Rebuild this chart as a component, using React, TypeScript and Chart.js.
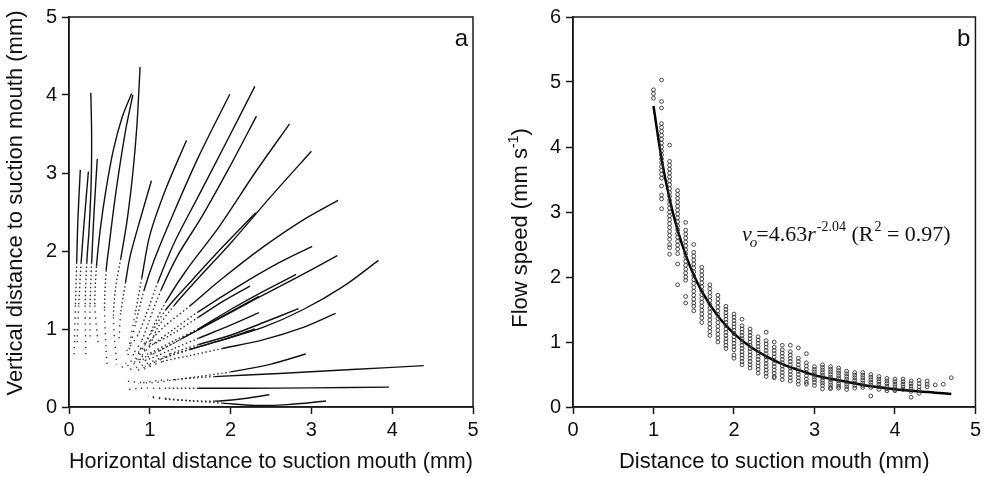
import React, { useEffect, useRef } from 'react';
import { Chart, registerables } from 'chart.js';

Chart.register(...registerables);

const SANS = "'Liberation Sans', Arial, Helvetica, sans-serif";
const SERIF = "'Liberation Serif', 'Times New Roman', Times, serif";
const INK = '#1a1a1a';

// ---------------- Panel a: particle tracks (x, y in mm), outer start -> suction mouth ----------------
const track01 = [[0.14, 3.04], [0.11, 2.4], [0.095, 1.85], [0.08, 1.3], [0.06, 0.62]];
const track02 = [[0.24, 3.02], [0.19, 2.4], [0.15, 1.85], [0.12, 1.3], [0.1, 0.82]];
const track03 = [[0.27, 4.03], [0.28, 3.5], [0.275, 2.9], [0.25, 2.3], [0.22, 1.85], [0.2, 1.3], [0.21, 0.62]];
const track04 = [[0.35, 3.18], [0.31, 2.5], [0.28, 1.85], [0.26, 1.3], [0.26, 0.85]];
const track05 = [[0.775, 4.02], [0.66, 3.72], [0.55, 3.3], [0.46, 2.8], [0.39, 2.3], [0.34, 1.8], [0.32, 1.3], [0.36, 0.82]];
const track06 = [[0.79, 4.0], [0.71, 3.6], [0.63, 3.1], [0.56, 2.6], [0.5, 2.1], [0.46, 1.75], [0.44, 1.25], [0.47, 0.52]];
const track07 = [[0.88, 4.36], [0.84, 3.6], [0.79, 3.0], [0.72, 2.4], [0.64, 1.9], [0.58, 1.55], [0.55, 1.15], [0.59, 0.54]];
const track08 = [[1.02, 2.9], [0.88, 2.4], [0.76, 1.95], [0.7, 1.6], [0.64, 1.2], [0.62, 0.88]];
const track09 = [[1.455, 3.42], [1.2, 2.8], [1.0, 2.2], [0.9, 1.65], [0.82, 1.2], [0.74, 0.75]];
const track10 = [[1.99, 4.01], [1.6, 3.2], [1.3, 2.5], [1.06, 1.9], [0.93, 1.5], [0.82, 1.05], [0.72, 0.62]];
const track11 = [[2.3, 4.11], [1.95, 3.4], [1.6, 2.7], [1.3, 2.1], [1.1, 1.6], [0.96, 1.2], [0.85, 0.92], [0.7, 0.7]];
const track12 = [[2.32, 3.73], [2.0, 3.1], [1.65, 2.45], [1.35, 1.95], [1.14, 1.5], [0.99, 1.1], [0.9, 0.85], [0.78, 0.66]];
const track13 = [[2.73, 3.63], [2.3, 3.0], [1.85, 2.3], [1.45, 1.75], [1.2, 1.35], [1.05, 1.05], [0.95, 0.82], [0.82, 0.62]];
const track14 = [[3.0, 3.28], [2.5, 2.7], [2.0, 2.1], [1.6, 1.65], [1.3, 1.3], [1.1, 1.02], [1.0, 0.8], [0.86, 0.6]];
const track15 = [[2.31, 2.49], [1.9, 2.05], [1.5, 1.6], [1.2, 1.25], [1.02, 0.95], [0.88, 0.74]];
const track16 = [[3.33, 2.65], [2.9, 2.4], [2.4, 2.05], [1.9, 1.65], [1.5, 1.3], [1.2, 1.05], [1.0, 0.85], [0.84, 0.7]];
const track17 = [[3.01, 2.06], [2.6, 1.85], [2.1, 1.55], [1.6, 1.22], [1.3, 1.0], [1.06, 0.82], [0.86, 0.66]];
const track18 = [[3.32, 1.94], [2.8, 1.65], [2.3, 1.38], [1.8, 1.1], [1.4, 0.88], [1.12, 0.72], [0.9, 0.6]];
const track19 = [[3.83, 1.88], [3.4, 1.55], [2.9, 1.25], [2.4, 1.02], [1.9, 0.86], [1.5, 0.74], [1.15, 0.62], [0.94, 0.52]];
const track20 = [[2.81, 1.7], [2.4, 1.48], [2.0, 1.25], [1.6, 1.0], [1.3, 0.82], [1.02, 0.68], [0.78, 0.56]];
const track21 = [[2.24, 1.55], [1.9, 1.35], [1.6, 1.15], [1.3, 0.95], [1.0, 0.78], [0.74, 0.64]];
const track22 = [[2.35, 1.42], [2.0, 1.22], [1.6, 1.0], [1.3, 0.85], [0.98, 0.68], [0.7, 0.56]];
const track23 = [[2.35, 1.21], [2.0, 1.05], [1.6, 0.88], [1.3, 0.75], [0.95, 0.6], [0.62, 0.5]];
const track24 = [[2.84, 1.26], [2.4, 1.08], [2.0, 0.92], [1.6, 0.8], [1.25, 0.68], [0.95, 0.55], [0.72, 0.47]];
const track25 = [[3.3, 1.2], [2.9, 1.02], [2.4, 0.86], [1.9, 0.75], [1.5, 0.66], [1.15, 0.58], [0.92, 0.48]];
const track26 = [[2.3, 1.0], [1.9, 0.86], [1.5, 0.74], [1.2, 0.64], [0.92, 0.5], [0.8, 0.45]];
const track27 = [[2.93, 0.68], [2.5, 0.55], [2.0, 0.45], [1.6, 0.39], [1.3, 0.35], [1.1, 0.34], [0.86, 0.3]];
const track28 = [[4.39, 0.53], [3.5, 0.48], [2.6, 0.43], [1.8, 0.39], [1.4, 0.36], [1.0, 0.31], [0.72, 0.33]];
const track29 = [[3.96, 0.255], [3.0, 0.245], [2.2, 0.24], [1.6, 0.24], [1.2, 0.24], [0.88, 0.24], [0.71, 0.22]];
const track30 = [[2.48, 0.157], [2.1, 0.1], [1.8, 0.075], [1.5, 0.08], [1.2, 0.11], [0.98, 0.14]];
const track31 = [[3.18, 0.077], [2.7, 0.03], [2.3, 0.02], [1.9, 0.05], [1.5, 0.08], [1.2, 0.1], [0.98, 0.13]];

const tracks = [
  track01, track02, track03, track04, track05, track06, track07, track08, track09, track10,
  track11, track12, track13, track14, track15, track16, track17, track18, track19, track20,
  track21, track22, track23, track24, track25, track26, track27, track28, track29, track30, track31,
];

// ---------------- Panel b: flow speed (mm/s) vs distance (mm) ----------------
const distanceCols = [
  1.0, 1.1, 1.2, 1.3, 1.4, 1.5, 1.6, 1.7, 1.8, 1.9, 2.0, 2.1, 2.2, 2.3, 2.4, 2.5, 2.6, 2.7, 2.8, 2.9,
  3.0, 3.1, 3.2, 3.3, 3.4, 3.5, 3.6, 3.7, 3.8, 3.9, 4.0, 4.1, 4.2, 4.3, 4.4, 4.5, 4.6, 4.7,
];
const speedCols = [
  [4.88, 4.82, 4.75],
  [5.03, 4.7, 4.6, 4.36, 4.3, 4.24, 4.18, 4.12, 4.06, 4.0, 3.94, 3.88, 3.82, 3.76, 3.7, 3.64, 3.58, 3.52, 3.4, 3.26, 3.2, 3.05],
  [4.03, 3.78, 3.72, 3.66, 3.6, 3.54, 3.48, 3.42, 3.36, 3.3, 3.24, 3.18, 3.12, 3.06, 3.0, 2.94, 2.88, 2.82, 2.76, 2.7, 2.64, 2.58, 2.5, 2.45, 2.35],
  [3.33, 3.27, 3.21, 3.15, 3.09, 3.03, 2.97, 2.91, 2.85, 2.79, 2.73, 2.67, 2.61, 2.55, 2.49, 2.43, 2.36, 2.2, 1.88],
  [2.84, 2.72, 2.66, 2.6, 2.54, 2.48, 2.42, 2.36, 2.3, 2.24, 2.18, 2.12, 2.06, 2.0, 1.95, 1.7, 1.6],
  [2.5, 2.38, 2.32, 2.26, 2.2, 2.14, 2.08, 2.02, 1.96, 1.9, 1.84, 1.78, 1.72, 1.66, 1.6, 1.55, 1.48],
  [2.15, 2.09, 2.03, 1.97, 1.91, 1.85, 1.79, 1.73, 1.67, 1.61, 1.55, 1.49, 1.43, 1.37, 1.3],
  [1.88, 1.82, 1.76, 1.7, 1.64, 1.58, 1.52, 1.46, 1.4, 1.34, 1.28, 1.22, 1.16, 1.1],
  [1.72, 1.66, 1.6, 1.54, 1.48, 1.42, 1.36, 1.3, 1.24, 1.18, 1.12, 1.06, 1.0],
  [1.55, 1.5, 1.45, 1.4, 1.35, 1.3, 1.25, 1.2, 1.15, 1.1, 1.05, 1.0, 0.95, 0.9],
  [1.43, 1.38, 1.33, 1.28, 1.23, 1.18, 1.13, 1.08, 1.03, 0.98, 0.93, 0.88, 0.8, 0.75],
  [1.35, 1.25, 1.2, 1.15, 1.1, 1.05, 1.0, 0.95, 0.9, 0.85, 0.8, 0.75, 0.7, 0.65],
  [1.2, 1.15, 1.1, 1.05, 1.0, 0.95, 0.9, 0.85, 0.8, 0.75, 0.7, 0.65, 0.6],
  [1.08, 1.03, 0.98, 0.93, 0.88, 0.83, 0.78, 0.73, 0.68, 0.63, 0.58, 0.52],
  [1.15, 1.02, 0.97, 0.92, 0.87, 0.82, 0.77, 0.72, 0.67, 0.62, 0.57, 0.52, 0.47],
  [1.0, 0.92, 0.87, 0.82, 0.77, 0.72, 0.67, 0.62, 0.57, 0.52, 0.47, 0.45],
  [0.95, 0.88, 0.83, 0.78, 0.73, 0.68, 0.63, 0.58, 0.53, 0.48, 0.42],
  [0.95, 0.85, 0.8, 0.75, 0.7, 0.65, 0.6, 0.55, 0.5, 0.45, 0.4],
  [0.91, 0.75, 0.7, 0.65, 0.6, 0.55, 0.5, 0.45, 0.4, 0.35],
  [0.82, 0.68, 0.63, 0.58, 0.53, 0.48, 0.43, 0.38, 0.35],
  [0.62, 0.58, 0.54, 0.5, 0.46, 0.42, 0.38, 0.33],
  [0.65, 0.61, 0.57, 0.53, 0.49, 0.45, 0.41, 0.37, 0.33, 0.28],
  [0.62, 0.58, 0.54, 0.5, 0.46, 0.42, 0.38, 0.34, 0.3, 0.28],
  [0.6, 0.56, 0.52, 0.48, 0.44, 0.4, 0.36, 0.32, 0.29],
  [0.55, 0.51, 0.47, 0.43, 0.39, 0.35, 0.31, 0.27],
  [0.53, 0.49, 0.45, 0.41, 0.37, 0.33, 0.29],
  [0.53, 0.49, 0.45, 0.41, 0.37, 0.33, 0.3],
  [0.5, 0.46, 0.42, 0.38, 0.34, 0.3, 0.17],
  [0.47, 0.43, 0.39, 0.35, 0.31, 0.27],
  [0.44, 0.4, 0.36, 0.32, 0.28, 0.25],
  [0.43, 0.39, 0.35, 0.31, 0.27, 0.25],
  [0.43, 0.39, 0.35, 0.31, 0.27],
  [0.4, 0.36, 0.32, 0.28, 0.24, 0.15],
  [0.41, 0.36, 0.31, 0.26, 0.21],
  [0.4, 0.35, 0.31],
  [0.34],
  [0.35],
  [0.45],
];
const fitDistance = [1.0, 1.1, 1.2, 1.3, 1.4, 1.5, 1.6, 1.8, 2.0, 2.2, 2.4, 2.6, 2.8, 3.0, 3.3, 3.6, 3.9, 4.2, 4.5, 4.7];
const fitSpeed = [4.63, 3.82, 3.2, 2.72, 2.34, 2.03, 1.78, 1.4, 1.13, 0.93, 0.78, 0.66, 0.57, 0.49, 0.41, 0.34, 0.29, 0.25, 0.22, 0.2];

// ---------------- shared helpers ----------------
function segRadius(ctx: any) {
  const x = (ctx.p0.parsed.x + ctx.p1.parsed.x) / 2;
  const y = (ctx.p0.parsed.y + ctx.p1.parsed.y) / 2;
  return Math.hypot(x, y);
}
function trackDash(ctx: any) {
  const r = segRadius(ctx);
  if (r > 1.85) return undefined;
  if (r > 1.3) return [1.5, 2.5];
  return [1.3, 4.6];
}
function trackColor(ctx: any) {
  return segRadius(ctx) > 1.85 ? '#111' : '#333';
}

function axis(min: number, max: number, fitSize: number, horizontal: boolean, title?: string) {
  return {
    type: 'linear',
    min,
    max,
    afterFit: (s: any) => {
      if (horizontal) s.height = fitSize;
      else s.width = fitSize;
    },
    border: { display: true, color: INK, width: 1.5 },
    grid: { drawOnChartArea: false, drawTicks: true, tickLength: 7, tickColor: INK, tickWidth: 1.5, color: INK },
    ticks: {
      stepSize: 1,
      padding: horizontal ? 4 : 5,
      color: '#111',
      font: { family: SANS, size: 20 },
      maxRotation: 0,
      callback: (v: any) => String(v),
    },
    title: title
      ? { display: true, text: title, color: '#111', font: { family: SANS, size: 22 }, padding: { top: 0, bottom: 2 } }
      : { display: false },
  };
}

function framePlugin(letter: string, drawYTitle: (ctx: CanvasRenderingContext2D) => void) {
  return {
    id: 'frame' + letter,
    afterDraw(chart: any) {
      const { ctx, chartArea: a } = chart;
      ctx.save();
      ctx.strokeStyle = INK;
      ctx.lineWidth = 1.5;
      ctx.strokeRect(a.left, a.top, a.right - a.left, a.bottom - a.top);
      ctx.fillStyle = '#111';
      ctx.font = `24px ${SANS}`;
      ctx.textAlign = 'right';
      ctx.textBaseline = 'alphabetic';
      ctx.fillText(letter, a.right - 5, a.top + 29);
      drawYTitle(ctx);
      ctx.restore();
    },
  };
}

const equationPlugin = {
  id: 'equation',
  afterDraw(chart: any) {
    const { ctx, scales } = chart;
    let x = scales.x.getPixelForValue(2.1);
    const y = scales.y.getPixelForValue(2.56);
    ctx.save();
    ctx.fillStyle = '#111';
    ctx.textAlign = 'left';
    ctx.textBaseline = 'alphabetic';
    const big = `22px ${SERIF}`;
    const bigI = `italic 22px ${SERIF}`;
    const small = `14px ${SERIF}`;
    const smallI = `italic 15px ${SERIF}`;
    ctx.font = bigI;
    ctx.fillText('v', x, y);
    x += ctx.measureText('v').width;
    ctx.font = smallI;
    ctx.fillText('o', x - 2, y + 6);
    x += ctx.measureText('o').width - 3;
    ctx.font = big;
    ctx.fillText('=4.63', x, y);
    x += ctx.measureText('=4.63').width;
    ctx.font = bigI;
    ctx.fillText('r', x, y);
    x += ctx.measureText('r').width + 1;
    ctx.font = small;
    ctx.fillText('-2.04', x, y - 10);
    x += ctx.measureText('-2.04').width;
    ctx.font = big;
    ctx.fillText(' (R', x, y);
    x += ctx.measureText(' (R').width + 1;
    ctx.font = small;
    ctx.fillText('2', x, y - 10);
    x += ctx.measureText('2').width;
    ctx.font = big;
    ctx.fillText(' = 0.97)', x, y);
    ctx.restore();
  },
};

function drawYTitleA(ctx: CanvasRenderingContext2D) {
  ctx.save();
  ctx.translate(22, 203);
  ctx.rotate(-Math.PI / 2);
  ctx.font = `22px ${SANS}`;
  ctx.textAlign = 'center';
  ctx.textBaseline = 'alphabetic';
  ctx.fillStyle = '#111';
  ctx.fillText('Vertical distance to suction mouth (mm)', 0, 0);
  ctx.restore();
}

function drawYTitleB(ctx: CanvasRenderingContext2D) {
  ctx.save();
  ctx.translate(37, 228);
  ctx.rotate(-Math.PI / 2);
  ctx.textAlign = 'left';
  ctx.textBaseline = 'alphabetic';
  ctx.fillStyle = '#111';
  const main = 'Flow speed (mm s';
  const sup = '-1';
  const end = ')';
  ctx.font = `22px ${SANS}`;
  const w1 = ctx.measureText(main).width;
  const w3 = ctx.measureText(end).width;
  ctx.font = `14px ${SANS}`;
  const w2 = ctx.measureText(sup).width;
  let x = -(w1 + w2 + w3) / 2;
  ctx.font = `22px ${SANS}`;
  ctx.fillText(main, x, 0);
  x += w1;
  ctx.font = `14px ${SANS}`;
  ctx.fillText(sup, x, -9);
  x += w2;
  ctx.font = `22px ${SANS}`;
  ctx.fillText(end, x, 0);
  ctx.restore();
}

function PanelA() {
  const ref = useRef<HTMLCanvasElement | null>(null);
  useEffect(() => {
    const chart = new Chart(ref.current as HTMLCanvasElement, {
      type: 'scatter',
      data: {
        datasets: tracks.map((t) => ({
          data: t.map(([x, y]) => ({ x, y })),
          showLine: true,
          pointRadius: 0,
          borderColor: '#111',
          borderWidth: 1.4,
          tension: 0.3,
          borderCapStyle: 'butt',
          segment: { borderDash: trackDash, borderColor: trackColor },
        })),
      },
      options: {
        animation: false,
        responsive: false,
        devicePixelRatio: 1,
        layout: { padding: { left: 0, top: 16, right: 17, bottom: 0 } },
        plugins: { legend: { display: false }, tooltip: { enabled: false } },
        scales: {
          x: axis(0, 5, 70, true, 'Horizontal distance to suction mouth (mm)'),
          y: axis(0, 5, 69, false),
        },
      } as any,
      plugins: [framePlugin('a', drawYTitleA)],
    } as any);
    return () => chart.destroy();
  }, []);
  return <canvas ref={ref} width={490} height={477} style={{ position: 'absolute', left: 0, top: 0, width: 490, height: 477 }} />;
}

function PanelB() {
  const ref = useRef<HTMLCanvasElement | null>(null);
  useEffect(() => {
    const points: { x: number; y: number }[] = [];
    distanceCols.forEach((d, i) => speedCols[i].forEach((v) => points.push({ x: d, y: v })));
    const chart = new Chart(ref.current as HTMLCanvasElement, {
      type: 'scatter',
      data: {
        datasets: [
          {
            data: points,
            pointStyle: 'circle',
            pointRadius: 1.9,
            pointBorderWidth: 0.9,
            pointBorderColor: '#333',
            pointBackgroundColor: 'rgba(255,255,255,0)',
          },
          {
            type: 'line',
            data: fitDistance.map((x, i) => ({ x, y: fitSpeed[i] })),
            borderColor: '#000',
            borderWidth: 2.5,
            pointRadius: 0,
            cubicInterpolationMode: 'monotone',
            fill: false,
          },
        ],
      },
      options: {
        animation: false,
        responsive: false,
        devicePixelRatio: 1,
        layout: { padding: { left: 0, top: 16, right: 8, bottom: 0 } },
        plugins: { legend: { display: false }, tooltip: { enabled: false } },
        scales: {
          x: axis(0, 5, 70, true, 'Distance to suction mouth (mm)'),
          y: axis(0, 6, 83, false),
        },
      } as any,
      plugins: [framePlugin('b', drawYTitleB), equationPlugin],
    } as any);
    return () => chart.destroy();
  }, []);
  return <canvas ref={ref} width={495} height={477} style={{ position: 'absolute', left: 490, top: 0, width: 495, height: 477 }} />;
}

export default function App() {
  return (
    <div style={{ position: 'absolute', left: 0, top: 0, width: 985, height: 477, background: '#fff' }}>
      <PanelA />
      <PanelB />
    </div>
  );
}
